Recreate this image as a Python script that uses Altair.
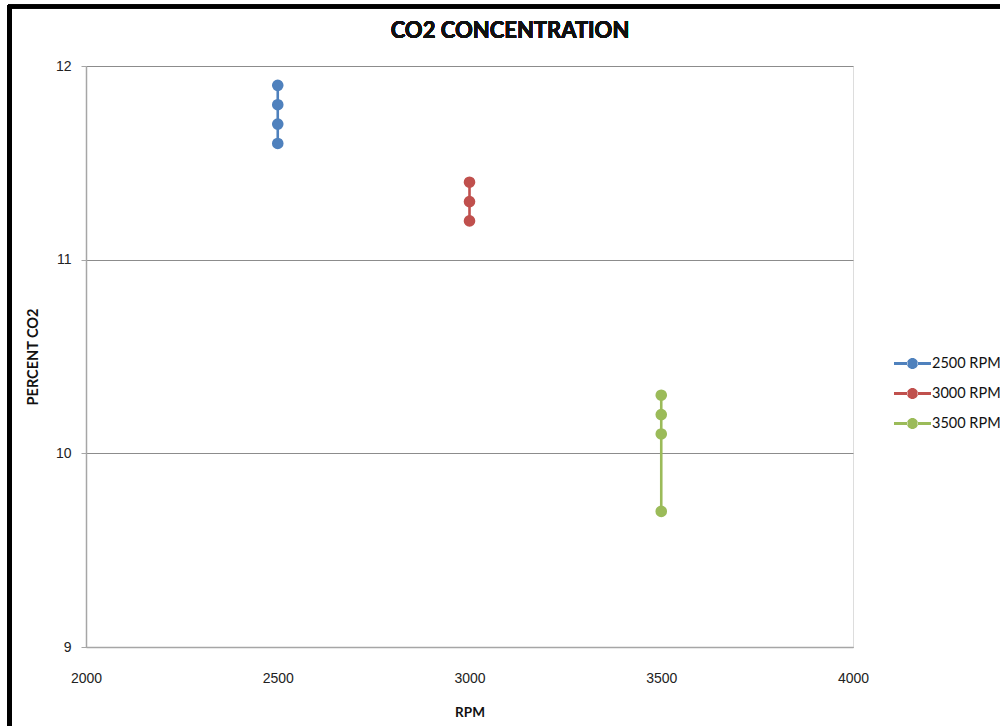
import altair as alt
import pandas as pd

# CO2 readings grouped by engine speed
series = ["2500 RPM", "3000 RPM", "3500 RPM"]
colors = ["#4F81BD", "#C0504D", "#9BBB59"]
rpm_2500 = [2500, 2500, 2500, 2500]
co2_2500 = [11.9, 11.8, 11.7, 11.6]
rpm_3000 = [3000, 3000, 3000]
co2_3000 = [11.4, 11.3, 11.2]
rpm_3500 = [3500, 3500, 3500, 3500]
co2_3500 = [10.3, 10.2, 10.1, 9.7]

x_ticks = [2000, 2500, 3000, 3500, 4000]
y_ticks = [9, 9.5, 10, 10.5, 11, 11.5, 12]

rows = []
for name, xs, ys in zip(series, [rpm_2500, rpm_3000, rpm_3500],
                        [co2_2500, co2_3000, co2_3500]):
    for i, (xv, yv) in enumerate(zip(xs, ys)):
        rows.append({"series": name, "rpm": xv, "co2": yv, "order": i})
df = pd.DataFrame(rows)

W, H = 767, 581
LABEL_FONT = "Liberation Sans"
TEXT_FONT = "Lato"

x_enc = alt.X(
    "rpm:Q",
    scale=alt.Scale(domain=[2000, 4000], nice=False, zero=False),
    axis=alt.Axis(
        values=x_ticks, format="d", ticks=False, grid=False,
        domainColor="#a6a6a6", domainWidth=1.5,
        labelFont=LABEL_FONT, labelFontSize=14, labelColor="#222222",
        labelPadding=24, labelFlush=False,
        title="RPM", titleFont=TEXT_FONT, titleFontSize=13.5,
        titleFontWeight="bold", titleColor="#111111", titlePadding=20,
    ),
)
y_enc = alt.Y(
    "co2:Q",
    scale=alt.Scale(domain=[9, 12], nice=False, zero=False),
    axis=alt.Axis(
        values=y_ticks, format="d",
        labelExpr="datum.value % 1 === 0 ? datum.label : ''",
        gridOpacity={"condition": {"test": "datum.value % 1 === 0", "value": 1}, "value": 0},
        gridColor="#8c8c8c", gridWidth=1,
        domainColor="#a6a6a6", domainWidth=1.5,
        tickColor="#a6a6a6", tickSize=5, tickWidth=1,
        labelFont=LABEL_FONT, labelFontSize=14, labelColor="#222222",
        labelPadding=10, labelFlush=False,
        title="PERCENT  CO2", titleFont=TEXT_FONT, titleFontSize=14.5,
        titleFontWeight="bold", titleColor="#111111", titlePadding=15,
    ),
)

color_scale = alt.Scale(domain=series, range=colors)

# Legend glyph: short line segments on either side of a filled dot
legend_glyph = (
    "M-1,-0.075H-0.27V0.075H-1Z "
    "M0.27,-0.075H1V0.075H0.27Z "
    "M-0.3,0A0.3,0.3 0 1,0 0.3,0A0.3,0.3 0 1,0 -0.3,0Z"
)

base = alt.Chart(df).encode(x=x_enc, y=y_enc, order="order:Q")

lines = base.mark_line(strokeWidth=2.6).encode(
    color=alt.Color("series:N", scale=color_scale, legend=None),
    detail="series:N",
)
points = base.mark_point(filled=True, size=135, opacity=1).encode(
    color=alt.Color(
        "series:N", scale=color_scale,
        legend=alt.Legend(
            title=None, orient="none", legendX=807, legendY=278,
            symbolType=legend_glyph, symbolSize=1369,
            labelFont=TEXT_FONT, labelFontSize=14.5, labelColor="#111111",
            labelOffset=0, rowPadding=4,
        ),
    ),
)

# Chart heading, centred over plot and legend together
heading = alt.Chart(df).mark_text(
    font=TEXT_FONT, fontSize=22, fontWeight="bold", color="#111111",
    align="center", baseline="alphabetic",
).encode(x=alt.value(424), y=alt.value(-28), text=alt.value("CO2 CONCENTRATION"))

# Frame lines along the top and left edges of the figure
frame_top = alt.Chart(df).mark_rule(color="#000000", strokeWidth=3.5).encode(
    x=alt.value(-78), x2=alt.value(W + 200), y=alt.value(-59.5)
)
frame_left = alt.Chart(df).mark_rule(color="#000000", strokeWidth=3.8).encode(
    x=alt.value(-76.5), y=alt.value(-61), y2=alt.value(H + 120)
)

chart = (
    alt.layer(lines, points, heading, frame_top, frame_left)
    .resolve_legend(color="independent")
    .properties(
        width=W, height=H,
        padding={"left": 86, "top": 66, "right": 147, "bottom": 79},
        autosize=alt.AutoSizeParams(type="none"),
    )
    .configure_view(stroke=None)
    .configure(background="white")
)

chart.save("out.html", embed_options={"renderer": "svg", "actions": False})
